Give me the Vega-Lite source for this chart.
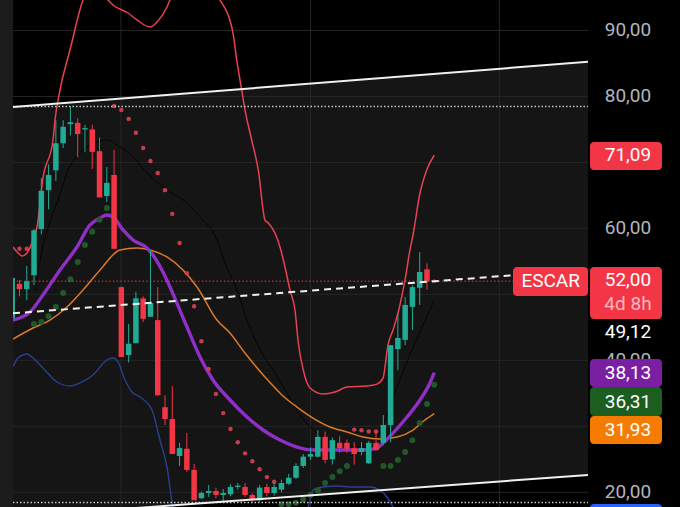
{
  "$schema": "https://vega.github.io/schema/vega-lite/v6.json",
  "width": 680,
  "height": 507,
  "padding": 0,
  "autosize": "none",
  "background": "#000000",
  "config": {"view": {"stroke": null}, "scale": {"continuousPadding": 0}},
  "datasets": {
    "channel": [{"i": 0.11, "p": 78.4, "p2": 16.25}, {"i": 79.13, "p": 85.26, "p2": 22.62}],
    "hgrid": [{"p": 20, "i": 0.11, "i2": 79.13}, {"p": 30, "i": 0.11, "i2": 79.13}, {"p": 40, "i": 0.11, "i2": 79.13}, {"p": 50, "i": 0.11, "i2": 79.13}, {"p": 60, "i": 0.11, "i2": 79.13}, {"p": 70, "i": 0.11, "i2": 79.13}, {"p": 80, "i": 0.11, "i2": 79.13}, {"p": 90, "i": 0.11, "i2": 79.13}],
    "vgrid": [{"i": 14.95}, {"i": 41.0}, {"i": 66.95}],
    "upper": [[0.11,57.18],[0.8,56.27],[1.35,55.82],[2.03,56.27],[2.86,58.24],[3.41,60.21],[4.23,67.64],[5.61,73.4],[5.88,76.43],[6.57,80.98],[7.94,87.04],[9.73,94.62],[11.3,97.5],[13.16,94.62],[13.85,93.86],[15.91,92.65],[17.15,91.59],[18.94,90.53],[19.9,91.29],[21.27,93.56],[21.68,94.62],[25,98],[28.56,94.62],[30.34,89.62],[30.85,85.53],[31.54,80.98],[31.99,77.95],[32.91,73.4],[33.82,68.85],[34.74,61.27],[35.19,60.82],[36.11,59.3],[36.8,57.18],[37.49,54.15],[38.17,50.66],[38.86,47.63],[39.32,42.63],[40.0,38.53],[40.93,35.8],[42.75,34.89],[44.36,35.2],[46.01,35.95],[48.76,36.1],[50.13,36.4],[50.96,37.31],[51.64,42.32],[52.33,44.6],[53.02,47.17],[53.98,52.18],[54.66,56.73],[55.08,59.0],[56.04,65.37],[56.96,68.86],[58,71.09]],
    "lower": [[0.11,38.99],[0.8,40.36],[2.03,40.97],[2.86,40.36],[4.23,38.84],[6.16,36.72],[7.94,36.11],[9.32,36.57],[11.1,37.78],[13.03,40.05],[13.85,40.36],[14.54,39.75],[15.5,37.02],[16.46,35.2],[17.56,34.44],[19.21,32.47],[20.31,27.92],[21.27,23.83],[22.1,17.77],[26,10],[34,11],[40.66,17.77],[41.34,20.35],[42.71,20.8],[44.63,20.96],[46.83,20.8],[49.17,20.8],[50.54,20.35],[51.5,19.29],[52.33,17.77],[55,12],[58,6]],
    "purple": [[0.11,46.11],[2.45,47.32],[4.51,50.36],[6.57,53.69],[8.9,57.18],[10.69,60.52],[12.07,61.58],[13.03,62.03],[13.85,61.73],[15.23,59.76],[16.6,58.24],[18.52,57.03],[19.62,55.51],[20.72,53.39],[21.68,51.12],[24.02,45.05],[25.81,40.51],[27.59,37.02],[29.93,33.99],[32.27,31.41],[34.47,29.44],[36.8,27.92],[39.14,26.86],[41.34,26.41],[43.67,26.41],[46.01,26.41],[48.21,26.41],[50.13,26.71],[50.96,27.47],[52.33,28.98],[54.26,31.41],[56.04,33.99],[57.41,36.57],[58,38.13]],
    "orange": [[0.11,43.23],[2.86,44.9],[5.19,46.11],[7.53,48.08],[9.73,50.66],[12.07,53.69],[14.81,56.73],[17.15,57.03],[18.94,56.73],[21.27,55.67],[23.47,53.69],[25.4,51.12],[28.14,46.11],[29.93,44.15],[31.99,41.11],[34.74,37.47],[37.21,34.6],[39.14,32.92],[41.34,31.25],[43.67,29.9],[46.01,29.14],[48.21,28.38],[50.54,28.08],[52.88,28.38],[55.08,29.44],[56.72,30.96],[58,31.93]],
    "thin": [[3.13,50.66],[4.1,56.73],[5.19,60.97],[6.57,65.07],[7.53,68.4],[9.32,71.43],[11.65,73.1],[13.03,73.4],[14.81,72.34],[16.6,70.82],[18.52,68.4],[21.27,65.82],[23.47,64.3],[25.81,61.73],[28.14,58.24],[29.24,54.76],[31.03,50.21],[32.4,45.66],[34.33,41.11],[36.11,38.08],[37.76,35.05],[39.55,31.71],[42.3,28.68],[45.73,27.17],[49.17,26.86],[50.96,30.2],[52.88,35.96],[58,49.12]],
    "sarRed": [{"i":1,"p":56.9},{"i":2,"p":56.9},{"i":14,"p":78.55},{"i":15,"p":77.95},{"i":16,"p":76.6},{"i":17,"p":74.5},{"i":18,"p":72.2},{"i":19,"p":70.2},{"i":20,"p":68.4},{"i":21,"p":65.8},{"i":22,"p":62.2},{"i":23,"p":57.8},{"i":24,"p":53.2},{"i":25,"p":48.2},{"i":26,"p":42.9},{"i":27,"p":38.7},{"i":28,"p":34.9},{"i":29,"p":32.0},{"i":30,"p":29.6},{"i":31,"p":27.6},{"i":32,"p":25.9},{"i":33,"p":24.7},{"i":34,"p":23.5},{"i":35,"p":22.3},{"i":36,"p":21.6},{"i":47,"p":29.5},{"i":48,"p":29.4},{"i":49,"p":29.2},{"i":50,"p":29.2}],
    "sarGreen": [{"i":3,"p":45.5},{"i":4,"p":45.8},{"i":5,"p":46.7},{"i":6,"p":48.1},{"i":7,"p":50.2},{"i":8,"p":52.3},{"i":9,"p":54.9},{"i":10,"p":57.5},{"i":11,"p":59.5},{"i":12,"p":61.3},{"i":13,"p":63.1},{"i":37,"p":18.2},{"i":38,"p":18.2},{"i":39,"p":18.4},{"i":40,"p":18.9},{"i":41,"p":19.6},{"i":42,"p":20.3},{"i":43,"p":21.4},{"i":44,"p":22.3},{"i":45,"p":23.2},{"i":46,"p":24.0},{"i":51,"p":24.0},{"i":52,"p":24.0},{"i":53,"p":24.9},{"i":54,"p":26.1},{"i":55,"p":27.9},{"i":56,"p":30.5},{"i":57,"p":33.4},{"i":58,"p":36.31}],
    "candles": [
      {"i":0,"o":46.4,"h":52.6,"l":45.8,"c":52.5},
      {"i":1,"o":51.6,"h":52.2,"l":49.7,"c":50.8},
      {"i":2,"o":50.8,"h":54.3,"l":49.1,"c":52.0},
      {"i":3,"o":52.9,"h":59.9,"l":51.4,"c":59.7},
      {"i":4,"o":59.9,"h":67.6,"l":59.1,"c":65.7},
      {"i":5,"o":65.8,"h":69.7,"l":62.9,"c":68.1},
      {"i":6,"o":68.8,"h":76.4,"l":67.2,"c":72.9},
      {"i":7,"o":72.9,"h":76.4,"l":72.2,"c":75.4},
      {"i":8,"o":75.8,"h":78.5,"l":74.1,"c":76.1},
      {"i":9,"o":76.0,"h":76.7,"l":70.8,"c":74.3},
      {"i":10,"o":75.0,"h":75.7,"l":71.6,"c":75.2},
      {"i":11,"o":75.0,"h":75.7,"l":69.0,"c":71.6},
      {"i":12,"o":71.7,"h":73.8,"l":64.7,"c":64.7},
      {"i":13,"o":64.9,"h":69.3,"l":64.0,"c":66.9},
      {"i":14,"o":68.1,"h":71.9,"l":56.9,"c":56.9},
      {"i":15,"o":51.1,"h":51.2,"l":40.5,"c":40.5},
      {"i":16,"o":40.8,"h":45.5,"l":39.7,"c":42.5},
      {"i":17,"o":42.6,"h":50.4,"l":42.6,"c":49.4},
      {"i":18,"o":49.4,"h":49.7,"l":45.8,"c":46.3},
      {"i":19,"o":46.6,"h":56.7,"l":46.6,"c":48.7},
      {"i":20,"o":46.1,"h":51.1,"l":34.7,"c":34.7},
      {"i":21,"o":32.9,"h":34.7,"l":30.2,"c":31.1},
      {"i":22,"o":31.1,"h":36.1,"l":25.8,"c":25.8},
      {"i":23,"o":25.5,"h":27.5,"l":24.0,"c":26.7},
      {"i":24,"o":26.6,"h":29.0,"l":23.1,"c":23.4},
      {"i":25,"o":23.4,"h":24.3,"l":18.8,"c":18.8},
      {"i":26,"o":19.1,"h":20.1,"l":19.0,"c":19.9},
      {"i":27,"o":19.9,"h":21.1,"l":19.3,"c":20.2},
      {"i":28,"o":20.2,"h":20.7,"l":19.1,"c":19.6},
      {"i":29,"o":19.6,"h":20.5,"l":18.6,"c":19.9},
      {"i":30,"o":19.7,"h":21.2,"l":19.4,"c":20.8},
      {"i":31,"o":20.8,"h":21.4,"l":20.4,"c":21.0},
      {"i":32,"o":20.8,"h":21.4,"l":19.3,"c":19.6},
      {"i":33,"o":19.6,"h":19.8,"l":18.5,"c":18.8},
      {"i":34,"o":18.8,"h":21.1,"l":18.6,"c":20.7},
      {"i":35,"o":20.8,"h":21.3,"l":19.4,"c":19.9},
      {"i":36,"o":19.9,"h":21.5,"l":19.5,"c":20.8},
      {"i":37,"o":20.4,"h":21.9,"l":20.0,"c":21.4},
      {"i":38,"o":21.3,"h":22.8,"l":21.1,"c":22.2},
      {"i":39,"o":22.2,"h":24.4,"l":22.0,"c":24.0},
      {"i":40,"o":24.0,"h":25.8,"l":23.7,"c":25.4},
      {"i":41,"o":25.4,"h":26.8,"l":24.9,"c":25.8},
      {"i":42,"o":25.4,"h":29.4,"l":25.3,"c":28.4},
      {"i":43,"o":28.4,"h":29.2,"l":24.4,"c":24.9},
      {"i":44,"o":25.0,"h":28.3,"l":24.2,"c":27.9},
      {"i":45,"o":27.5,"h":28.5,"l":26.0,"c":26.7},
      {"i":46,"o":27.5,"h":28.0,"l":26.0,"c":26.6},
      {"i":47,"o":26.7,"h":27.6,"l":24.2,"c":25.8},
      {"i":48,"o":26.1,"h":27.6,"l":25.6,"c":26.7},
      {"i":49,"o":24.4,"h":27.8,"l":24.3,"c":27.5},
      {"i":50,"o":27.5,"h":29.4,"l":26.3,"c":26.4},
      {"i":51,"o":27.5,"h":31.7,"l":27.2,"c":30.2},
      {"i":52,"o":30.2,"h":42.3,"l":27.6,"c":42.3},
      {"i":53,"o":41.7,"h":47.2,"l":38.5,"c":43.4},
      {"i":54,"o":43.1,"h":49.6,"l":42.3,"c":48.4},
      {"i":55,"o":48.1,"h":51.4,"l":44.6,"c":51.1},
      {"i":56,"o":51.0,"h":56.4,"l":48.4,"c":53.4},
      {"i":57,"o":53.8,"h":54.7,"l":50.7,"c":52.0},
      {"i":58,"o":52.15,"h":52.3,"l":51.8,"c":52.0}
    ],
    "dotted": [{"i": 0.11, "i2": 79.13, "p": 78.48}, {"i": 0.11, "i2": 79.13, "p": 18.45}],
    "priceLine": [{"i": 0.11, "i2": 68.82, "p": 52.0}],
    "trend": [{"i": 0.11, "p": 78.4, "i2": 79.13, "p2": 85.26}, {"i": 0.11, "p": 16.25, "i2": 79.13, "p2": 22.62}],
    "dashed": [{"i": 0.11, "p": 47.13, "i2": 68.68, "p2": 52.89}],
    "strip": [{"i": -1.6765, "i2": 0.11, "p": 17.77, "p2": 94.62}],
    "axisLabels": [
      {"i": 84.62, "p": 90, "t": "90,00"},
      {"i": 84.62, "p": 80, "t": "80,00"},
      {"i": 84.62, "p": 60, "t": "60,00"},
      {"i": 84.62, "p": 40, "t": "40,00"},
      {"i": 84.62, "p": 20, "t": "20,00"}
    ],
    "tags": [
      {"k": "price", "i": 79.4, "i2": 89.3, "p": 73.1, "p2": 68.85},
      {"k": "price", "i": 79.4, "i2": 89.3, "p": 54.15, "p2": 46.27},
      {"k": "price", "i": 68.82, "i2": 79.13, "p": 54.15, "p2": 49.75},
      {"k": "ma1", "i": 79.4, "i2": 89.3, "p": 40.2, "p2": 35.96},
      {"k": "sar", "i": 79.4, "i2": 89.3, "p": 35.96, "p2": 31.56},
      {"k": "ma2", "i": 79.4, "i2": 89.3, "p": 31.56, "p2": 27.32},
      {"k": "lowband", "i": 79.4, "i2": 89.3, "p": 18.23, "p2": 14.0}
    ],
    "tagText": [
      {"i": 84.62, "p": 71.09, "t": "71,09"},
      {"i": 84.62, "p": 52.18, "t": "52,00"},
      {"i": 74.0, "p": 52.0, "t": "ESCAR"},
      {"i": 84.62, "p": 44.34, "t": "49,12"},
      {"i": 84.62, "p": 38.1, "t": "38,13"},
      {"i": 84.62, "p": 33.76, "t": "36,31"},
      {"i": 84.62, "p": 29.44, "t": "31,93"}
    ],
    "tagSub": [{"i": 84.62, "p": 48.54, "t": "4d 8h"}]
  },
  "layer": [
    {
      "data": {"name": "channel"},
      "mark": {"type": "area", "color": "#151515", "clip": true},
      "encoding": {
        "x": {"field": "i", "type": "quantitative", "scale": {"domain": [-1.6765, 91.77], "nice": false, "zero": false, "padding": 0}, "axis": null},
        "y": {"field": "p", "type": "quantitative", "scale": {"domain": [17.77, 94.62], "nice": false, "zero": false, "padding": 0}, "axis": null},
        "y2": {"field": "p2"}
      }
    },
    {
      "data": {"name": "hgrid"},
      "mark": {"type": "rule", "color": "#262626", "strokeWidth": 1},
      "encoding": {
        "x": {"field": "i", "type": "quantitative", "scale": {"domain": [-1.6765, 91.77], "nice": false, "zero": false, "padding": 0}, "axis": null},
        "x2": {"field": "i2"},
        "y": {"field": "p", "type": "quantitative", "scale": {"domain": [17.77, 94.62], "nice": false, "zero": false, "padding": 0}, "axis": null}
      }
    },
    {
      "data": {"name": "vgrid"},
      "mark": {"type": "rule", "color": "#262626", "strokeWidth": 1},
      "encoding": {
        "x": {"field": "i", "type": "quantitative", "scale": {"domain": [-1.6765, 91.77], "nice": false, "zero": false, "padding": 0}, "axis": null}
      }
    },
    {
      "data": {"name": "thin"},
      "mark": {"type": "line", "color": "#050505", "strokeWidth": 1, "interpolate": "monotone", "clip": true},
      "encoding": {
        "x": {"field": "0", "type": "quantitative", "scale": {"domain": [-1.6765, 91.77], "nice": false, "zero": false, "padding": 0}, "axis": null},
        "y": {"field": "1", "type": "quantitative", "scale": {"domain": [17.77, 94.62], "nice": false, "zero": false, "padding": 0}, "axis": null}
      }
    },
    {
      "data": {"name": "lower"},
      "mark": {"type": "line", "color": "#2b3f8f", "strokeWidth": 1.4, "interpolate": "monotone", "clip": true},
      "encoding": {
        "x": {"field": "0", "type": "quantitative", "scale": {"domain": [-1.6765, 91.77], "nice": false, "zero": false, "padding": 0}, "axis": null},
        "y": {"field": "1", "type": "quantitative", "scale": {"domain": [17.77, 94.62], "nice": false, "zero": false, "padding": 0}, "axis": null}
      }
    },
    {
      "data": {"name": "upper"},
      "mark": {"type": "line", "color": "#e8414f", "strokeWidth": 1.5, "interpolate": "monotone", "clip": true},
      "encoding": {
        "x": {"field": "0", "type": "quantitative", "scale": {"domain": [-1.6765, 91.77], "nice": false, "zero": false, "padding": 0}, "axis": null},
        "y": {"field": "1", "type": "quantitative", "scale": {"domain": [17.77, 94.62], "nice": false, "zero": false, "padding": 0}, "axis": null}
      }
    },
    {
      "data": {"name": "orange"},
      "mark": {"type": "line", "color": "#dd7a26", "strokeWidth": 1.5, "interpolate": "monotone", "clip": true},
      "encoding": {
        "x": {"field": "0", "type": "quantitative", "scale": {"domain": [-1.6765, 91.77], "nice": false, "zero": false, "padding": 0}, "axis": null},
        "y": {"field": "1", "type": "quantitative", "scale": {"domain": [17.77, 94.62], "nice": false, "zero": false, "padding": 0}, "axis": null}
      }
    },
    {
      "data": {"name": "purple"},
      "mark": {"type": "line", "color": "#8f2fc6", "strokeWidth": 3.4, "interpolate": "monotone", "clip": true},
      "encoding": {
        "x": {"field": "0", "type": "quantitative", "scale": {"domain": [-1.6765, 91.77], "nice": false, "zero": false, "padding": 0}, "axis": null},
        "y": {"field": "1", "type": "quantitative", "scale": {"domain": [17.77, 94.62], "nice": false, "zero": false, "padding": 0}, "axis": null}
      }
    },
    {
      "data": {"name": "sarGreen"},
      "mark": {"type": "circle", "color": "#225b2a", "size": 36, "opacity": 0.95, "clip": true},
      "encoding": {
        "x": {"field": "i", "type": "quantitative", "scale": {"domain": [-1.6765, 91.77], "nice": false, "zero": false, "padding": 0}, "axis": null},
        "y": {"field": "p", "type": "quantitative", "scale": {"domain": [17.77, 94.62], "nice": false, "zero": false, "padding": 0}, "axis": null}
      }
    },
    {
      "data": {"name": "sarRed"},
      "mark": {"type": "circle", "color": "#d9404f", "size": 20, "opacity": 0.9, "clip": true},
      "encoding": {
        "x": {"field": "i", "type": "quantitative", "scale": {"domain": [-1.6765, 91.77], "nice": false, "zero": false, "padding": 0}, "axis": null},
        "y": {"field": "p", "type": "quantitative", "scale": {"domain": [17.77, 94.62], "nice": false, "zero": false, "padding": 0}, "axis": null}
      }
    },
    {
      "data": {"name": "candles"},
      "mark": {"type": "rule", "strokeWidth": 1, "clip": true},
      "encoding": {
        "x": {"field": "i", "type": "quantitative", "scale": {"domain": [-1.6765, 91.77], "nice": false, "zero": false, "padding": 0}, "axis": null},
        "y": {"field": "l", "type": "quantitative", "scale": {"domain": [17.77, 94.62], "nice": false, "zero": false, "padding": 0}, "axis": null},
        "y2": {"field": "h"},
        "color": {"condition": {"test": "datum.c >= datum.o", "value": "#22ab94"}, "value": "#f23645"}
      }
    },
    {
      "data": {"name": "candles"},
      "mark": {"type": "bar", "size": 5.5, "orient": "vertical", "clip": true},
      "encoding": {
        "x": {"field": "i", "type": "quantitative", "scale": {"domain": [-1.6765, 91.77], "nice": false, "zero": false, "padding": 0}, "axis": null},
        "y": {"field": "o", "type": "quantitative", "scale": {"domain": [17.77, 94.62], "nice": false, "zero": false, "padding": 0}, "axis": null},
        "y2": {"field": "c"},
        "color": {"condition": {"test": "datum.c >= datum.o", "value": "#22ab94"}, "value": "#f23645"}
      }
    },
    {
      "data": {"name": "dotted"},
      "mark": {"type": "rule", "color": "#c8c8c8", "strokeWidth": 1.3, "strokeDash": [1.5, 2]},
      "encoding": {
        "x": {"field": "i", "type": "quantitative", "scale": {"domain": [-1.6765, 91.77], "nice": false, "zero": false, "padding": 0}, "axis": null},
        "x2": {"field": "i2"},
        "y": {"field": "p", "type": "quantitative", "scale": {"domain": [17.77, 94.62], "nice": false, "zero": false, "padding": 0}, "axis": null}
      }
    },
    {
      "data": {"name": "priceLine"},
      "mark": {"type": "rule", "color": "#f23645", "strokeWidth": 1, "strokeDash": [1.5, 2.2]},
      "encoding": {
        "x": {"field": "i", "type": "quantitative", "scale": {"domain": [-1.6765, 91.77], "nice": false, "zero": false, "padding": 0}, "axis": null},
        "x2": {"field": "i2"},
        "y": {"field": "p", "type": "quantitative", "scale": {"domain": [17.77, 94.62], "nice": false, "zero": false, "padding": 0}, "axis": null}
      }
    },
    {
      "data": {"name": "trend"},
      "mark": {"type": "rule", "color": "#f0f0f0", "strokeWidth": 2, "clip": true},
      "encoding": {
        "x": {"field": "i", "type": "quantitative", "scale": {"domain": [-1.6765, 91.77], "nice": false, "zero": false, "padding": 0}, "axis": null},
        "x2": {"field": "i2"},
        "y": {"field": "p", "type": "quantitative", "scale": {"domain": [17.77, 94.62], "nice": false, "zero": false, "padding": 0}, "axis": null},
        "y2": {"field": "p2"}
      }
    },
    {
      "data": {"name": "dashed"},
      "mark": {"type": "rule", "color": "#f0f0f0", "strokeWidth": 2, "strokeDash": [7, 5]},
      "encoding": {
        "x": {"field": "i", "type": "quantitative", "scale": {"domain": [-1.6765, 91.77], "nice": false, "zero": false, "padding": 0}, "axis": null},
        "x2": {"field": "i2"},
        "y": {"field": "p", "type": "quantitative", "scale": {"domain": [17.77, 94.62], "nice": false, "zero": false, "padding": 0}, "axis": null},
        "y2": {"field": "p2"}
      }
    },
    {
      "data": {"name": "strip"},
      "mark": {"type": "rect", "color": "#1c1c1c"},
      "encoding": {
        "x": {"field": "i", "type": "quantitative", "scale": {"domain": [-1.6765, 91.77], "nice": false, "zero": false, "padding": 0}, "axis": null},
        "x2": {"field": "i2"},
        "y": {"field": "p", "type": "quantitative", "scale": {"domain": [17.77, 94.62], "nice": false, "zero": false, "padding": 0}, "axis": null},
        "y2": {"field": "p2"}
      }
    },
    {
      "data": {"name": "axisLabels"},
      "mark": {"type": "text", "font": "Roboto", "fontSize": 19, "color": "#b2b5be", "align": "center", "baseline": "middle"},
      "encoding": {
        "x": {"field": "i", "type": "quantitative", "scale": {"domain": [-1.6765, 91.77], "nice": false, "zero": false, "padding": 0}, "axis": null},
        "y": {"field": "p", "type": "quantitative", "scale": {"domain": [17.77, 94.62], "nice": false, "zero": false, "padding": 0}, "axis": null},
        "text": {"field": "t"}
      }
    },
    {
      "data": {"name": "tags"},
      "mark": {"type": "rect", "cornerRadius": 4, "clip": true},
      "encoding": {
        "x": {"field": "i", "type": "quantitative", "scale": {"domain": [-1.6765, 91.77], "nice": false, "zero": false, "padding": 0}, "axis": null},
        "x2": {"field": "i2"},
        "y": {"field": "p", "type": "quantitative", "scale": {"domain": [17.77, 94.62], "nice": false, "zero": false, "padding": 0}, "axis": null},
        "y2": {"field": "p2"},
        "color": {"field": "k", "type": "nominal", "scale": {"domain": ["price", "ma1", "sar", "ma2", "lowband"], "range": ["#f23645", "#7b1fa2", "#1b5e20", "#f57c00", "#2962ff"]}, "legend": null}
      }
    },
    {
      "data": {"name": "tagText"},
      "mark": {"type": "text", "font": "Roboto", "fontSize": 19, "color": "#ffffff", "align": "center", "baseline": "middle"},
      "encoding": {
        "x": {"field": "i", "type": "quantitative", "scale": {"domain": [-1.6765, 91.77], "nice": false, "zero": false, "padding": 0}, "axis": null},
        "y": {"field": "p", "type": "quantitative", "scale": {"domain": [17.77, 94.62], "nice": false, "zero": false, "padding": 0}, "axis": null},
        "text": {"field": "t"}
      }
    },
    {
      "data": {"name": "tagSub"},
      "mark": {"type": "text", "font": "Roboto", "fontSize": 19, "color": "#fbb6bd", "align": "center", "baseline": "middle"},
      "encoding": {
        "x": {"field": "i", "type": "quantitative", "scale": {"domain": [-1.6765, 91.77], "nice": false, "zero": false, "padding": 0}, "axis": null},
        "y": {"field": "p", "type": "quantitative", "scale": {"domain": [17.77, 94.62], "nice": false, "zero": false, "padding": 0}, "axis": null},
        "text": {"field": "t"}
      }
    }
  ]
}
